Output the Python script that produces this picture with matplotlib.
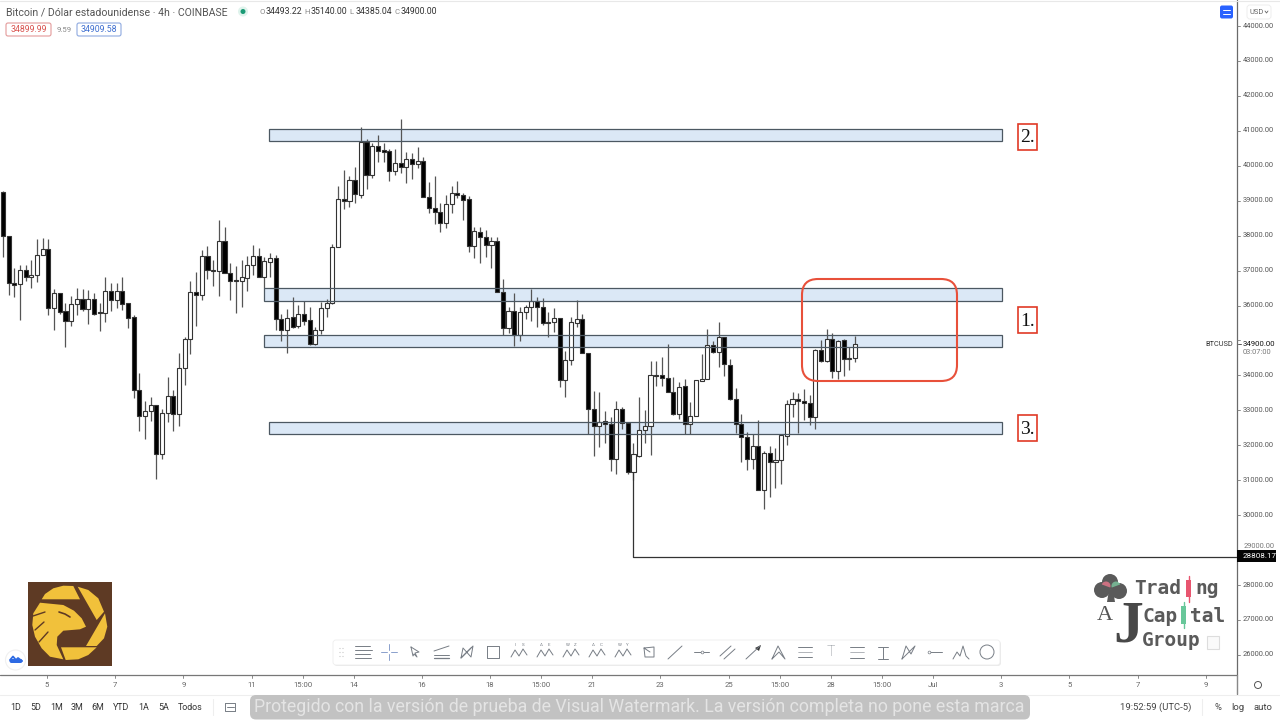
import matplotlib
matplotlib.use("Agg")
import matplotlib.pyplot as plt
from matplotlib.patches import Rectangle, FancyBboxPatch, Circle, Wedge, Polygon

plt.rcParams['font.family'] = ['Roboto', 'DejaVu Sans']

# Candle data (4h BTCUSD)
opens = [39259,37990,36636,36607,37017,36826,36864,37446,37609,35920,36350,35834,35558,36035,36178,35892,36197,35815,35796,36426,
         36159,36407,36063,35663,33583,32848,32991,33144,31742,32934,33411,32886,34203,35033,36378,36311,37418,36990,36990,37857,
         36922,36731,36702,36779,37160,37418,36826,37255,37350,35614,35300,35662,35424,35758,35586,34889,35300,35920,36063,37685,
         39039,39001,39593,39173,40690,39736,40566,40442,40423,39850,40070,39974,40184,40041,40136,39116,38791,38686,38352,38896,
         39230,39163,39039,37704,38114,37971,37723,37847,36378,35348,35843,35157,35825,35968,36120,35968,35538,35538,35653,33869,
         34441,35491,35605,34651,33039,32552,32695,32610,31608,33039,32629,31226,31703,32438,32552,34012,34012,33936,33516,32886,
         33706,32600,32848,33850,33897,34870,34660,35090,34298,33325,32600,32247,31608,31989,30720,31789,31531,31589,32275,33172,
         33315,33277,33220,32819,34727,34412,35042,34126,35013,34460,34493]
highs = [39290,37990,37065,37160,37160,37303,37895,37924,37895,36464,36350,36063,36283,36493,36464,36445,36350,36063,36826,36636,
         36636,36807,36082,35729,34060,33277,33373,33144,33029,33945,33583,34632,35090,36702,36970,37590,37704,37303,38448,38257,
         37208,37132,37303,37418,37723,37637,37398,37494,37446,35758,35901,36254,36015,36139,35967,35376,36110,36177,37752,39421,
         39879,39717,39974,41100,40756,40642,40880,40642,40470,40470,41338,40403,40356,40527,40260,39545,39717,38925,39163,39421,
         39574,39211,39135,38238,38238,38162,37952,37952,36760,35948,36368,35948,36015,36473,36235,36206,35806,35920,35653,34699,
         35663,36159,35758,34651,33554,33516,32991,32800,33277,33106,32629,32075,33373,33010,34422,34422,34537,34890,33965,33821,
         33888,33249,33869,34613,35319,34994,35519,35090,34460,33630,32886,32371,32314,32724,31837,31989,31913,32294,33300,33516,
         33506,33602,33439,34746,35013,35319,35204,35013,35032,34823,35140]
lows = [37400,36300,36254,35586,36700,36512,36683,37446,35729,35300,35748,34823,35414,35729,35844,35472,35729,35271,35538,35853,
        35920,35872,35348,33344,32419,32180,32705,31026,31598,32676,32419,32552,33726,34613,35424,36159,36760,36569,36273,36922,
        36159,35796,35949,36426,36874,36807,36490,36826,35300,34994,34632,35347,35347,35443,34870,34870,35185,35681,36034,37685,
        38763,38830,38944,39068,39326,39640,40117,40117,39574,39736,39783,39516,39612,39926,39096,38639,38333,38114,38209,38639,
        39068,38448,37541,37351,37227,37398,37065,36378,35157,35223,34842,34994,35605,35567,35376,35443,35109,35252,33678,33373,
        34298,35376,34651,32323,31703,31961,32056,31274,31169,32467,31169,31000,31656,32056,31723,33698,33697,33516,32867,32743,
        32313,32323,32848,33869,33897,34632,34250,33983,33296,32342,31512,31293,31312,30720,30177,30530,30787,30892,32008,32819,
        32361,32724,32581,32457,34393,34393,33916,33888,33983,34155,34385]
closes = [37990,36636,36600,37017,36826,36883,37456,37609,35920,36350,35825,35558,36035,36178,35892,36197,35748,35777,36426,36159,
          36407,36044,35653,33583,32848,32991,33144,31742,32934,33411,32886,34203,35033,36378,36311,37418,37008,37008,37857,36922,
          36702,36702,36807,37170,37418,36826,37284,37350,35614,35300,35634,35395,35748,35567,34889,35300,35920,36063,37685,39039,
          39001,39593,39192,40690,39736,40566,40432,40404,39850,40070,39974,40184,40041,40136,39096,38791,38686,38352,38896,39230,
          39163,39020,37704,38133,37952,37723,37847,36378,35348,35843,35157,35824,35968,36120,35968,35491,35491,35653,33869,34441,
          35519,35605,34651,33039,32552,32676,32610,31608,33039,32629,31226,31741,32438,32552,34012,33984,33936,33516,32886,33678,
          32600,32848,33869,33897,34870,34660,35090,34317,33315,32600,32247,31608,31989,30720,31789,31531,31589,32294,33172,33315,
          33277,33220,32819,34727,34412,35042,34126,34994,34470,34508,34900]

price_ticks = [26000,27000,28000,29000,30000,31000,32000,33000,34000,35000,36000,37000,38000,39000,40000,41000,42000,43000,44000]
time_pos = [0,12,24,36,45,54,66,78,87,96,108,120,129,138,147,156,168,180,192,204]
time_labels = ['5','7','9','11','15:00','14','16','18','15:00','21','23','25','15:00','28','15:00','Jul','3','5','7','9']
range_labels = ['1D','5D','1M','3M','6M','YTD','1A','5A','Todos']

# Horizontal support / resistance zones: (first candle, last candle, low price, high price)
zones = [(46.83,175.9,40709,41052),(45.95,175.9,36130,36502),(45.95,175.9,34813,35156),(46.83,175.9,32323,32666)]
target_price = 28808.17

fig = plt.figure(figsize=(12.8,7.2),dpi=100,facecolor='white')
W,H = 1280,720
ax = fig.add_axes([0,(H-675)/H,1237/W,675/H])
ax.set_xlim(-0.528,217.25)
ax.set_ylim(25426,44744)
for s in ax.spines.values(): s.set_visible(False)
ax.set_xticks([]); ax.set_yticks([])

for i,(o,h,l,c) in enumerate(zip(opens,highs,lows,closes)):
    col = '#000000' if c<o else '#ffffff'
    ax.plot([i,i],[l,h],color='#555555',lw=0.9,zorder=2,solid_capstyle='butt')
    ax.add_patch(Rectangle((i-0.36,min(o,c)),0.72,max(abs(c-o),25),fc=col,ec='#333333',lw=0.8,zorder=3))

for x0,x1,lo,hi in zones:
    ax.add_patch(Rectangle((x0,lo),x1-x0,hi-lo,fc='#dbe8f6',ec='none',zorder=1))
    ax.add_patch(Rectangle((x0,lo),x1-x0,hi-lo,fc='none',ec='#4c5862',lw=0.9,zorder=5))

ax.plot([111,111,217.25],[31300,target_price,target_price],color='#333333',lw=0.9,zorder=2)

# Overlay in pixel space
ov = fig.add_axes([0,0,1,1],facecolor='none')
ov.set_xlim(0,W); ov.set_ylim(H,0); ov.axis('off')

def T(x,y,s,size=6,color='#4a4a4a',ha='left',va='center',**kw):
    return ov.text(x,y,s,fontsize=size,color=color,ha=ha,va=va,**kw)
def L(xs,ys,color='#555555',lw=0.8,**kw):
    ov.plot(xs,ys,color=color,lw=lw,solid_capstyle='round',**kw)

# Axis lines
L([1237,1237],[0,694],color='#6a6a6a',lw=0.9)
L([0,1237],[675,675],color='#777777',lw=0.9)
L([0,1280],[695,695],color='#eeeeee',lw=0.8)
L([0,1280],[0.5,0.5],color='#e8e8e8',lw=0.8)
y_of = lambda p: 26+(44000-p)*0.03494
for p in price_ticks:
    y = y_of(p)
    L([1237,1240],[y,y],color='#777777',lw=0.6)
    if p in (35000,29000): continue
    T(1243,y,f'{p:.2f}',size=5.4,color='#555555')
for pos,lab in zip(time_pos,time_labels):
    px = 3+5.68*(7.75+pos)
    L([px,px],[675,678],color='#777777',lw=0.6)
    T(px,685,lab,size=5.6,color='#666666',ha='center')

# Price tags
T(1233,344,'BTCUSD',size=5.3,color='#333333',ha='right')
L([1238,1241],[344,344],color='#555555',lw=0.7)
T(1243,344,'34900.00',size=5.6,color='#111111')
T(1243,353,'03:07:00',size=5.4,color='#777777')
ov.add_patch(Rectangle((1237,550),39,12,fc='#050505',ec='none',zorder=6))
T(1243,556.5,'28808.17',size=5.8,color='white',zorder=7)
T(1244,546,'29000.00',size=5.4,color='#777777')

# Header
T(6,12,'Bitcoin / Dólar estadounidense · 4h · COINBASE',size=7.6,color='#555555')
ov.add_patch(Circle((243,11.5),5,fc='#dff3ec',ec='none'))
ov.add_patch(Circle((243,11.5),2.5,fc='#1a9a75',ec='none'))
hx = [259.5,304.5,349.5,394.5]
for x,k,v in zip(hx,'OHLC',['34493.22','35140.00','34385.04','34900.00']):
    T(x,12,k,size=5.6,color='#888888')
    T(x+6,12,v,size=6.3,color='#333333')
ov.add_patch(FancyBboxPatch((6,23),45,13,boxstyle='round,pad=0,rounding_size=2',fc='white',ec='#e39a9a',lw=0.8))
T(28.5,30,'34899.99',size=6.3,color='#d9534f',ha='center')
T(57,30,'9.59',size=5.6,color='#888888')
ov.add_patch(FancyBboxPatch((77,23),44,13,boxstyle='round,pad=0,rounding_size=2',fc='white',ec='#8ea9e0',lw=0.8))
T(99,30,'34909.58',size=6.3,color='#3f6fd0',ha='center')

# USD and blue button
ov.add_patch(FancyBboxPatch((1220,5.5),13,13,boxstyle='round,pad=0,rounding_size=2',fc='#2962ff',ec='none'))
L([1223,1230],[10,10],color='white',lw=0.7); L([1223,1230],[14,14],color='white',lw=0.7)
ov.add_patch(FancyBboxPatch((1247,5),24,14,boxstyle='round,pad=0,rounding_size=3',fc='white',ec='#eeeeee',lw=0.7))
T(1249,12,'USD',size=5.4,color='#666666')
L([1265,1266.5,1268],[11,13,11],color='#666666',lw=0.6)

# Red rounded rectangle and numbered boxes
ov.add_patch(FancyBboxPatch((802,279),155,102,boxstyle='round,pad=0,rounding_size=16',fc='none',ec='#e8503a',lw=1.5,zorder=8))
for y,s in [(137,'2.'),(320,'1.'),(428,'3.')]:
    ov.add_patch(Rectangle((1018,y-13),19,26,fc='white',ec='#e03a26',lw=1.2))
    T(1027.5,y+1,s,size=14,color='#111111',ha='center',family=['Liberation Serif'])

# Eagle logo
BR,YL = '#5e3a24','#f1c13b'
ov.add_patch(Rectangle((27.5,581.5),84,84,fc=BR,ec='none'))
for p in [[(41.7,599.3),(80,599.3),(73.3,586),(63.3,585.7),(53.3,588.3),(45,594)],
          [(77.7,586.7),(88.3,590),(98.3,598.3),(104,611.7),(96.7,620)],
          [(105,613.3),(107.3,626.7),(104,638.3),(96.7,646),(86,646)],
          [(61,647.3),(96.7,647.3),(88.3,655),(78.3,659.3),(65.7,660)],
          [(86,626.7),(81.7,618.3),(74,610.7),(63.3,605),(40,602.7),(33.3,613.3),(32.3,625),(35,636.7),
           (41.7,648.3),(50,656.7),(63.3,659.3),(56.7,645),(57.3,636.7),(63.3,630.7),(80,629.3)]]:
    ov.add_patch(Polygon(p,fc=YL,ec='none'))
L([33,45],[616,612],color=BR,lw=1); L([35,44],[630,622],color=BR,lw=1); L([39,48],[642,632],color=BR,lw=1)
L([59,65,70],[612,614,617],color=BR,lw=1.2)

# Cloud badge
ov.add_patch(Circle((15.5,660),10,fc='white',ec='#f0f0f0',lw=0.8,zorder=9))
ov.add_patch(FancyBboxPatch((9.5,659),13,4,boxstyle='round,pad=0,rounding_size=2',fc='#2d6ae3',ec='none',zorder=10))
L([10,13,16,18,22],[660,656.5,660,658,661],color='#2d6ae3',lw=1.3,zorder=10)

# Trading Capital Group logo
for cx,cy in [(1102,590),(1110,582),(1119,591)]:
    ov.add_patch(Circle((cx,cy),8,fc='#5a5a5a',ec='none'))
ov.add_patch(Wedge((1106,586),4.5,200,20,fc='#e8788c',ec='none',alpha=0.8))
ov.add_patch(Wedge((1116,586),4.5,160,340,fc='#7cc8a0',ec='none',alpha=0.8))
ov.add_patch(Polygon([(1109,590),(1113,590),(1115,602),(1107,602)],fc='#5a5a5a',ec='none'))
ft = dict(fontweight='bold',family=['DejaVu Sans Mono'],color='#5a5a5a')
T(1134,589,'Trad',size=14,**ft)
T(1195,589,'ng',size=14,**ft)
T(1143,616,'Cap',size=14,**ft)
T(1190,616,'tal',size=14,**ft)
T(1142,641,'Group',size=14,**ft)
ov.add_patch(Rectangle((1186,580),5,17,fc='#e8556f',ec='none'))
L([1188.5,1188.5],[576,602],color='#e8556f',lw=1)
ov.add_patch(Rectangle((1181,606),5,18,fc='#68c79a',ec='none'))
L([1183.5,1183.5],[602,628],color='#68c79a',lw=1)
T(1105,616,'A',size=16,color='#555555',ha='center',family=['Liberation Serif'])
T(1128,627,'J',size=43,color='#484848',ha='center',fontweight='bold',family=['Liberation Serif'])
ov.add_patch(Rectangle((1207,636),12,13,fc='#fafafa',ec='#dddddd',lw=0.8))

# Drawing toolbar
ov.add_patch(FancyBboxPatch((334,641),667,25,boxstyle='round,pad=0,rounding_size=3',fc='#dddddd',ec='none',alpha=0.6))
ov.add_patch(FancyBboxPatch((333,640),667,25,boxstyle='round,pad=0,rounding_size=3',fc='white',ec='#eeeeee',lw=0.6))
for y in (648,652,656):
    L([339,340],[y,y],color='#dddddd',lw=0.8); L([342,343],[y,y],color='#dddddd',lw=0.8)
ic = '#777d85'
for y,x1 in [(646,370),(650,372),(654,370),(658,371)]:
    L([355,x1],[y,y],color=ic,lw=0.7)
L([381,387],[652,652],color='#8aa0cc',lw=0.7); L([391,397],[652,652],color='#8aa0cc',lw=0.7)
L([389,389],[644,650],color='#8aa0cc',lw=0.7); L([389,389],[654,660],color='#8aa0cc',lw=0.7)
L([411,419,415,417,414,413,411],[647,652,653,657,654,656,647],color=ic,lw=0.7)
L([434,449],[651,646],color=ic,lw=0.7); L([434,449],[655,655],color=ic,lw=0.7); L([434,449],[658,658],color=ic,lw=0.9)
L([461,473,471,463,461,471],[658,646,657,648,658,648],color=ic,lw=0.7)
L([487,499,499,487,487],[646,646,658,658,646],color=ic,lw=0.7)
for cx,(a,b) in zip([519,545,571,597,623],[('I','S'),('A','E'),('W','Z'),('A','C'),('W','Y')]):
    L([cx-8,cx-4,cx,cx+4,cx+8],[657,650,656,649,655],color=ic,lw=0.7)
    T(cx-3.5,645,a,size=3.2,color=ic,ha='center'); T(cx+4,645,b,size=3.2,color=ic,ha='center')
L([644,654,654,645,644,650],[648,647,657,657,648,652],color=ic,lw=0.7)
L([668,682],[659,646],color=ic,lw=0.7)
L([694,709],[652,652],color=ic,lw=0.7); ov.plot([701.5],[652],'o',ms=2,mfc='white',mec=ic,mew=0.5)
L([720,731],[656,646],color=ic,lw=0.7); L([724,735],[659,649],color=ic,lw=0.7)
L([746,760],[659,646],color=ic,lw=0.7); ov.add_patch(Polygon([(755,648),(761,645),(759,651)],fc='#333333',ec='none'))
L([772,778,785,779,772],[659,646,659,652,659],color=ic,lw=0.7)
L([798,812],[647,647],color=ic,lw=0.7); L([798,812],[652,652],color=ic,lw=0.4); L([798,812],[657,657],color=ic,lw=0.7)
T(831,652,'T',size=10,color=ic,ha='center',fontweight='light')
L([850,864],[647,647],color=ic,lw=0.7); L([850,864],[652,652],color=ic,lw=0.4); L([850,864],[658,658],color=ic,lw=0.7)
L([878,888],[647,647],color=ic,lw=0.7); L([878,888],[659,659],color=ic,lw=0.7); L([883,883],[647,659],color=ic,lw=0.7)
L([902,906,911,915,902],[659,646,654,646,659],color=ic,lw=0.7)
L([929,942],[652,652],color=ic,lw=0.7); ov.plot([929],[652],'o',ms=2,mfc='white',mec=ic,mew=0.5)
L([953,957,960,963,966,969],[659,652,656,646,656,659],color=ic,lw=0.7)
ov.add_patch(Circle((987,652),7,fc='white',ec=ic,lw=0.7))

# Bottom bar
for x,s in zip([16,36,57,77,98,121,144,164,190],range_labels):
    T(x,707,s,size=6.4,color='#333333',ha='center')
L([213,213],[699,715],color='#eeeeee',lw=0.8)
L([225,235,235],[703,703,711],color=ic,lw=0.7); L([225,225,235],[703,711,711],color=ic,lw=0.7); L([227,234],[707,707],color=ic,lw=0.7)
ov.add_patch(FancyBboxPatch((250,695),780,24.5,boxstyle='round,pad=0,rounding_size=6',fc='#c2c2c2',ec='none',zorder=10))
T(639,707.5,'Protegido con la versión de prueba de Visual Watermark. La versión completa no pone esta marca',
  size=12.8,color='#e4e4e4',ha='center',zorder=11)
T(1120,707,'19:52:59 (UTC-5)',size=6.8,color='#444444')
L([1202,1202],[699,715],color='#eeeeee',lw=0.8)
T(1218,707,'%',size=6.8,color='#444444',ha='center')
T(1238,707,'log',size=6.8,color='#444444',ha='center')
T(1263,707,'auto',size=6.8,color='#444444',ha='center')
ov.add_patch(Circle((1258,685),3.5,fc='white',ec='#555555',lw=0.7))
L([1237,1237],[675,694],color='#888888',lw=0.8)

fig.savefig('out.png',dpi=100)
